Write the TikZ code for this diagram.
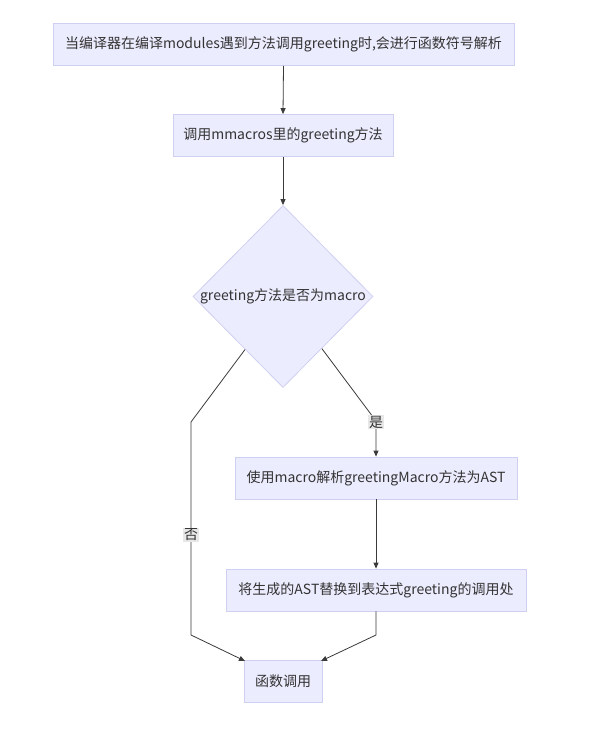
\documentclass[tikz,border=0pt]{standalone}
\usepackage{fontspec}
\setmainfont{Noto Sans CJK SC}
\usetikzlibrary{shapes.geometric,arrows.meta,calc}
\definecolor{nodefill}{HTML}{ECECFF}
\definecolor{nodeline}{HTML}{CFCFF2}
\definecolor{edgecol}{HTML}{3A3A3A}
\definecolor{txtcol}{HTML}{333333}
\definecolor{lblbg}{HTML}{E8E8E8}
\begin{document}
\begin{tikzpicture}[x=1pt,y=-1pt,
  every node/.style={font=\fontsize{14}{16}\selectfont, text=txtcol},
  procbox/.style={draw=nodeline, fill=nodefill, line width=0.8pt, minimum height=42pt, inner sep=0pt},
  decision/.style={diamond, draw=nodeline, fill=nodefill, line width=0.8pt, minimum width=180pt, minimum height=182pt, inner sep=0pt},
  edge/.style={draw=edgecol, line width=0.8pt},
  arr/.style={edge, -{Triangle[length=6pt,width=5pt]}},
  elabel/.style={fill=lblbg, inner sep=1pt}
]
\useasboundingbox (0,0) rectangle (614,731);
\node[procbox, minimum width=461pt] (a) at (283.5,44.5) {当编译器在编译modules遇到方法调用greeting时,会进行函数符号解析};
\node[procbox, minimum width=220pt] (b) at (283,135.5) {调用mmacros里的greeting方法};
\node[decision] (d) at (283,296.5) {};
\node at (d) {greeting方法是否为macro};
\node[procbox, minimum width=282pt] (c) at (376,478) {使用macro解析greetingMacro方法为AST};
\node[procbox, minimum width=300pt] (e) at (376,590) {将生成的AST替换到表达式greeting的调用处};
\node[procbox, minimum width=78pt] (f) at (283,681) {函数调用};

\coordinate (dl) at ($(d.west)!0.58!(d.south)$);
\coordinate (dr) at ($(d.east)!0.57!(d.south)$);
\coordinate (l1) at (191,422);
\coordinate (l2) at (191,635);
\coordinate (r1) at (376,421);
\coordinate (r2) at (376,635);
\coordinate (fl) at (245,661);
\coordinate (fr) at (321,661);

\draw[arr] (a.south) -- (b.north);
\draw[arr] (b.south) -- (d.north);
\draw[arr] (dl) -- (l1) -- (l2) -- (fl);
\draw[arr] (dr) -- (r1) -- (c.north);
\draw[arr] (c.south) -- (e.north);
\draw[arr] (e.south) -- (r2) -- (fr);

\node[elabel] (yes) at (376,422) {是};
\node[elabel] (no) at (191,535) {否};
\end{tikzpicture}
\end{document}
